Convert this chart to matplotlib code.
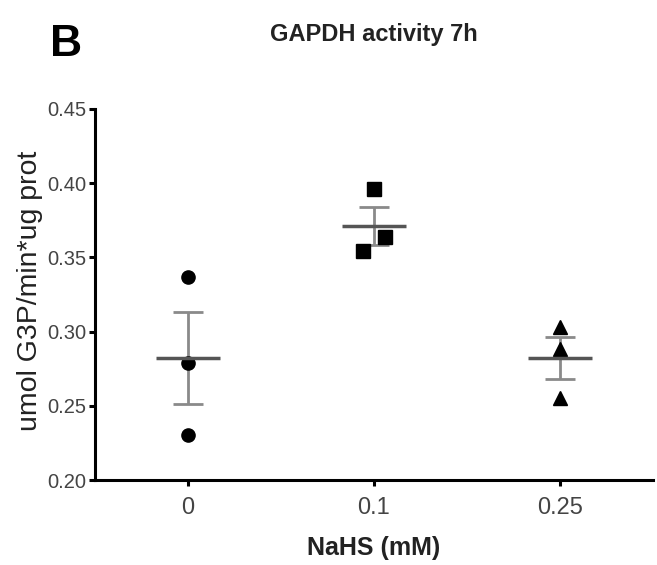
import numpy as np
import matplotlib
matplotlib.use("Agg")
import matplotlib.pyplot as plt

plt.rcParams['font.family'] = ['Liberation Sans', 'DejaVu Sans']

# ---- data ----
categories = ['0', '0.1', '0.25']
vals_0 = [0.337, 0.279, 0.2305]
vals_01 = [0.3958, 0.3635, 0.354]
vals_025 = [0.303, 0.288, 0.2551]
y_ticks = [0.20, 0.25, 0.30, 0.35, 0.40, 0.45]
y_tick_labels = ['0.20', '0.25', '0.30', '0.35', '0.40', '0.45']
title = 'GAPDH activity 7h'
panel_letter = 'B'
x_label = 'NaHS (mM)'
y_label = 'umol G3P/min*ug prot'

groups = [vals_0, vals_01, vals_025]

fig = plt.figure(figsize=(6.57, 5.65), dpi=100)
ax = fig.add_axes([95/657, 1 - 480/565, (653 - 95)/657, (480 - 109)/565])

marker_styles = ['o', 's', '^']
marker_sizes = [9.5, 10, 10]
jitters = [[0, 0, 0], [0, 0.06, -0.06], [0, 0, 0]]

for i, vals in enumerate(groups):
    vals = np.asarray(vals)
    m = vals.mean()
    sem = vals.std(ddof=1) / np.sqrt(len(vals))
    xs = i + np.asarray(jitters[i])
    ax.errorbar([i], [m], yerr=[sem], fmt='none', ecolor='#8a8a8a',
                elinewidth=2.0, capsize=11, capthick=2.0, zorder=2)
    ax.plot(xs, vals, linestyle='none', marker=marker_styles[i],
            markersize=marker_sizes[i], color='black', zorder=3)
    ax.hlines(m, i - 0.17, i + 0.17, colors='#555555', linewidth=2.5, zorder=4)

ax.set_xlim(-0.5, 2.5)
ax.set_ylim(0.20, 0.45)
ax.set_xticks(range(len(categories)))
ax.set_xticklabels(categories, fontsize=17, color='#444444')
ax.set_yticks(y_ticks)
ax.set_yticklabels(y_tick_labels, fontsize=14.5, color='#444444')

for s in ['top', 'right']:
    ax.spines[s].set_visible(False)
for s in ['left', 'bottom']:
    ax.spines[s].set_linewidth(2.2)
    ax.spines[s].set_color('black')
ax.tick_params(axis='both', width=2.2, length=4, color='black')
ax.tick_params(axis='x', pad=8)
ax.tick_params(axis='y', pad=2)

fig.text(30/657, 1 - 291/565, y_label, rotation=90, ha='center', va='center',
         fontsize=20.5, color='#222222')
fig.text(374/657, 1 - 548/565, x_label, ha='center', va='center',
         fontsize=18, fontweight='bold', color='#222222')
fig.text(374/657, 1 - 34/565, title, ha='center', va='center',
         fontsize=17, fontweight='bold', color='#222222')
fig.text(66/657, 1 - 44/565, panel_letter, ha='center', va='center',
         fontsize=32, fontweight='bold', color='black')

fig.savefig('out.png', dpi=100)
